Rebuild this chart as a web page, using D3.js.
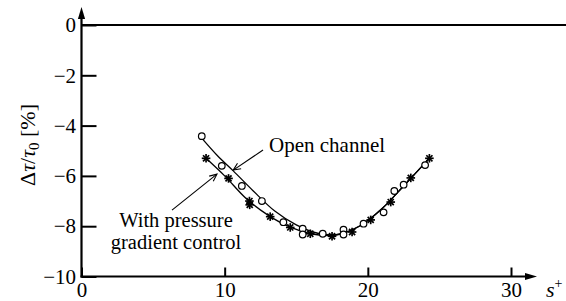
<!DOCTYPE html>
<html>
<head>
<meta charset="utf-8">
<script src="https://cdn.jsdelivr.net/npm/d3@7"></script>
<style>
  body { margin: 0; background: #fff; }
  svg text { font-family: "Liberation Serif", Tinos, "Times New Roman", "DejaVu Serif", serif; fill: #000; }
</style>
</head>
<body>
<div id="chart"></div>
<script>
// measured points, open channel (circles)
var openS = [8.4, 9.8, 11.2, 12.6, 14.1, 15.45, 15.45, 16.85, 18.3, 18.3, 19.7, 21.1, 21.85, 22.5, 24.0];
var openV = [-4.42, -5.6, -6.4, -7.0, -7.84, -8.1, -8.33, -8.3, -8.14, -8.33, -7.9, -7.45, -6.6, -6.35, -5.57];

// measured points, with pressure gradient control (asterisks)
var pgcS = [8.7, 10.27, 11.73, 11.75, 13.18, 14.58, 15.98, 17.5, 18.9, 20.2, 21.6, 23.0, 24.3];
var pgcV = [-5.3, -6.1, -7.0, -7.15, -7.62, -8.05, -8.3, -8.4, -8.23, -7.75, -7.04, -6.08, -5.3];

// fitted curves
var openFitS = [8.4, 9.5, 10.6, 12, 13.5, 15, 16.5, 18, 19.5, 21, 22.5, 24.3];
var openFitV = [-4.5, -5.2, -5.8, -6.6, -7.4, -7.95, -8.28, -8.32, -7.97, -7.3, -6.4, -5.3];
var pgcFitS = [8.7, 10, 11.5, 13, 14.5, 16, 17.3, 18, 19.5, 21, 22.5, 24.3];
var pgcFitV = [-5.3, -6.0, -6.9, -7.55, -8.02, -8.3, -8.37, -8.32, -7.97, -7.3, -6.4, -5.3];

var xTicks = [0, 10, 20, 30];
var yTicks = [-10, -8, -6, -4, -2, 0];

var width = 566, height = 301;
var serif = "'Liberation Serif', Tinos, 'Times New Roman', 'DejaVu Serif', serif";

var svg = d3.select("#chart").append("svg")
    .attr("width", width)
    .attr("height", height);

var x = d3.scaleLinear().domain([0, 30]).range([81.5, 511]);
var y = d3.scaleLinear().domain([-10, 0]).range([276.5, 25]);

var fs = 21;

// zero line
svg.append("line")
    .attr("x1", x(0)).attr("x2", width)
    .attr("y1", y(0)).attr("y2", y(0))
    .attr("stroke", "#000").attr("stroke-width", 2);

// y axis
var yAxis = d3.axisLeft(y)
    .tickValues(yTicks)
    .tickSizeInner(-15)
    .tickSizeOuter(0)
    .tickPadding(5.5)
    .tickFormat(d3.format("d"));

var gy = svg.append("g")
    .attr("transform", "translate(" + x(0) + ",0)")
    .call(yAxis)
    .attr("font-family", serif);
gy.select(".domain").remove();
gy.selectAll(".tick line").attr("stroke-width", 2);
gy.selectAll(".tick text")
    .attr("font-size", fs)
    .attr("fill", "#000");

// x axis
var xAxis = d3.axisBottom(x)
    .tickValues(xTicks)
    .tickSizeInner(-9)
    .tickSizeOuter(0)
    .tickPadding(5.6)
    .tickFormat(d3.format("d"));

var gx = svg.append("g")
    .attr("transform", "translate(0," + y(-10) + ")")
    .call(xAxis)
    .attr("font-family", serif);
gx.select(".domain").remove();
gx.selectAll(".tick line").attr("stroke-width", 2);
gx.selectAll(".tick text")
    .attr("font-size", fs)
    .attr("fill", "#000");

// axis lines with arrow heads
svg.append("line")
    .attr("x1", x(0)).attr("x2", x(0))
    .attr("y1", y(-10) + 1).attr("y2", 16)
    .attr("stroke", "#000").attr("stroke-width", 2.2);
svg.append("path")
    .attr("d", "M" + x(0) + ",7 L" + (x(0) - 3.6) + ",19 L" + (x(0) + 3.6) + ",19 Z")
    .attr("fill", "#000");

svg.append("line")
    .attr("x1", x(0) - 1).attr("x2", 528)
    .attr("y1", y(-10)).attr("y2", y(-10))
    .attr("stroke", "#000").attr("stroke-width", 2.2);
svg.append("path")
    .attr("d", "M537," + y(-10) + " L525," + (y(-10) - 3.6) + " L525," + (y(-10) + 3.6) + " Z")
    .attr("fill", "#000");

// axis titles
var yl = svg.append("text")
    .attr("transform", "translate(35,145) rotate(-90)")
    .attr("text-anchor", "middle")
    .attr("font-size", 22);
yl.append("tspan").text("Δ");
yl.append("tspan").attr("font-style", "italic").text("τ");
yl.append("tspan").text("/");
yl.append("tspan").attr("font-style", "italic").text("τ");
yl.append("tspan").attr("font-size", 15).attr("dy", 4).text("0");
yl.append("tspan").attr("dy", -4).text(" [%]");

var xl = svg.append("text")
    .attr("x", 546).attr("y", 297)
    .attr("font-size", 22);
xl.append("tspan").attr("font-style", "italic").text("s");
xl.append("tspan").attr("font-size", 14).attr("dy", -9).text("+");

// fitted curves
var line = d3.line()
    .x(function(d) { return x(d[0]); })
    .y(function(d) { return y(d[1]); })
    .curve(d3.curveCatmullRom.alpha(0.5));

svg.append("path")
    .datum(d3.zip(openFitS, openFitV))
    .attr("d", line)
    .attr("fill", "none").attr("stroke", "#000").attr("stroke-width", 1.3);
svg.append("path")
    .datum(d3.zip(pgcFitS, pgcFitV))
    .attr("d", line)
    .attr("fill", "none").attr("stroke", "#000").attr("stroke-width", 1.3);

// asterisks
var star = svg.append("g").selectAll("g")
    .data(d3.zip(pgcS, pgcV))
    .enter().append("g")
    .attr("transform", function(d) { return "translate(" + x(d[0]) + "," + y(d[1]) + ")"; });
[0, 45, 90, 135].forEach(function(a) {
    var r = 4.3, t = a * Math.PI / 180;
    star.append("line")
        .attr("x1", -r * Math.cos(t)).attr("y1", -r * Math.sin(t))
        .attr("x2", r * Math.cos(t)).attr("y2", r * Math.sin(t))
        .attr("stroke", "#000").attr("stroke-width", 1.7);
});

// circles
svg.append("g").selectAll("circle")
    .data(d3.zip(openS, openV))
    .enter().append("circle")
    .attr("cx", function(d) { return x(d[0]); })
    .attr("cy", function(d) { return y(d[1]); })
    .attr("r", 3.3)
    .attr("fill", "#fff")
    .attr("stroke", "#000")
    .attr("stroke-width", 1.2);

// annotations (in data units)
function arrow(from, to) {
    var x1 = x(from[0]), y1 = y(from[1]), x2 = x(to[0]), y2 = y(to[1]);
    var ang = Math.atan2(y2 - y1, x2 - x1), h = 8, w = 0.42;
    svg.append("line")
        .attr("x1", x1).attr("y1", y1).attr("x2", x2).attr("y2", y2)
        .attr("stroke", "#000").attr("stroke-width", 1.1);
    svg.append("path")
        .attr("d", "M" + (x2 - h * Math.cos(ang - w)) + "," + (y2 - h * Math.sin(ang - w)) +
            " L" + x2 + "," + y2 +
            " L" + (x2 - h * Math.cos(ang + w)) + "," + (y2 - h * Math.sin(ang + w)))
        .attr("fill", "none").attr("stroke", "#000").attr("stroke-width", 1.1);
}

arrow([12.68, -4.97], [10.6, -5.77]);
arrow([6.32, -7.36], [9.46, -5.93]);

svg.append("text")
    .attr("x", x(13.1)).attr("y", y(-5.03))
    .attr("font-size", fs)
    .text("Open channel");

svg.append("text")
    .attr("text-anchor", "middle")
    .attr("x", x(6.6)).attr("y", y(-8.03))
    .attr("font-size", 20.5)
    .text("With pressure");
svg.append("text")
    .attr("text-anchor", "middle")
    .attr("x", x(6.6)).attr("y", y(-8.9))
    .attr("font-size", 20.5)
    .text("gradient control");
</script>
</body>
</html>
